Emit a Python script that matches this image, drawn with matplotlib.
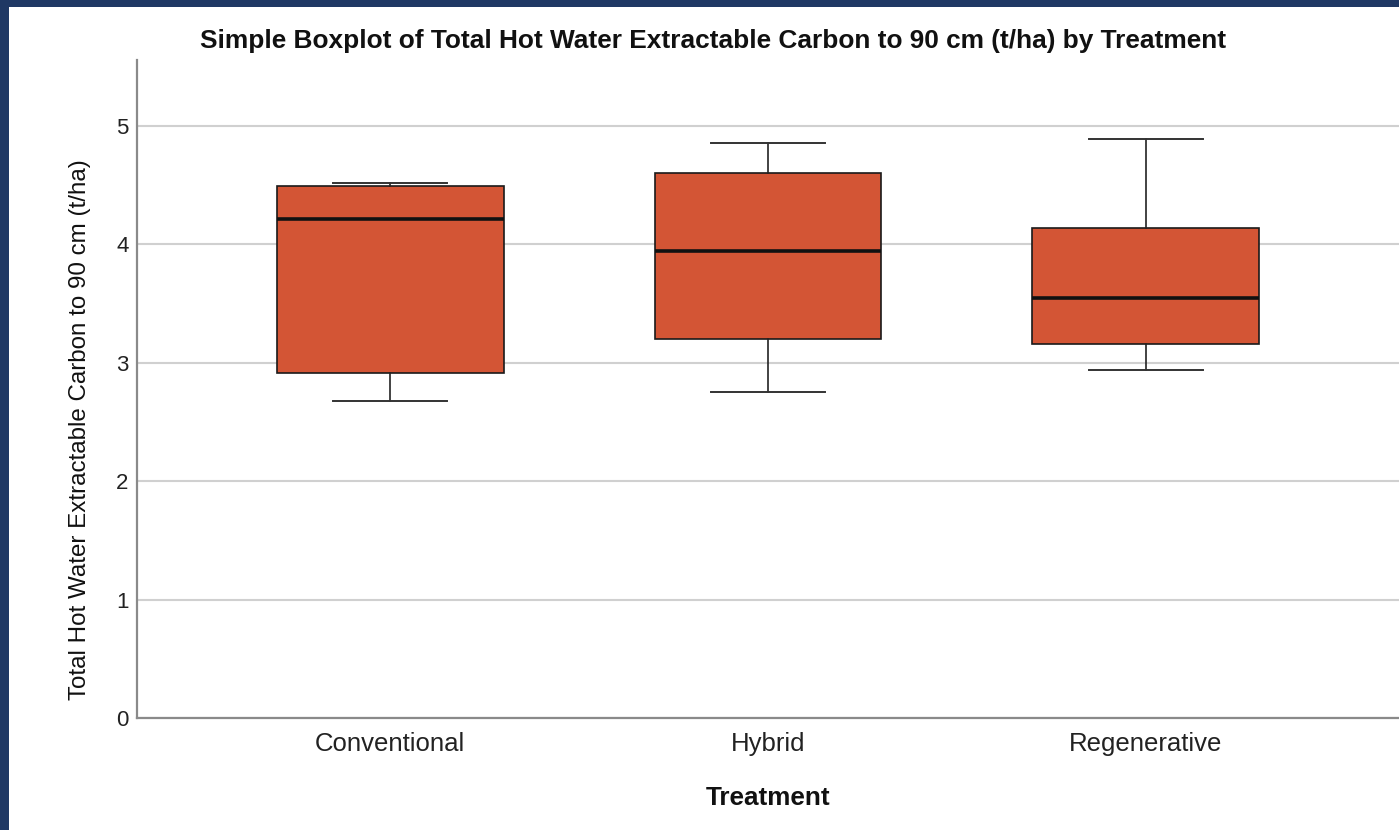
import matplotlib
matplotlib.use("Agg")
import matplotlib.pyplot as plt
from matplotlib.patches import Rectangle

categories = ["Conventional", "Hybrid", "Regenerative"]
whisker_low = [2.68, 2.75, 2.94]
q1 = [2.91, 3.20, 3.16]
median = [4.21, 3.94, 3.55]
q3 = [4.49, 4.60, 4.14]
whisker_high = [4.52, 4.86, 4.89]
y_ticks = [0, 1, 2, 3, 4, 5]

title = "Simple Boxplot of Total Hot Water Extractable Carbon to 90 cm (t/ha) by Treatment"
ylabel = "Total Hot Water Extractable Carbon to 90 cm (t/ha)"
xlabel = "Treatment"

plt.rcParams['font.family'] = ['Liberation Sans', 'DejaVu Sans']

W, H = 1399, 830
fig = plt.figure(figsize=(W / 100, H / 100), dpi=100)
fig.patch.set_facecolor("white")

navy = "#1F3864"
fig.patches.append(Rectangle((0, 1 - 7 / H), 1, 7 / H, transform=fig.transFigure,
                             facecolor=navy, edgecolor="none", zorder=0))
fig.patches.append(Rectangle((0, 0), 9 / W, 1, transform=fig.transFigure,
                             facecolor=navy, edgecolor="none", zorder=0))

ax = fig.add_axes([137 / W, 1 - 718 / H, 1 - 137 / W, (718 - 60) / H])

stats = []
for i, c in enumerate(categories):
    stats.append(dict(label=c, med=median[i], q1=q1[i], q3=q3[i],
                      whislo=whisker_low[i], whishi=whisker_high[i], fliers=[]))

ax.bxp(stats, positions=range(len(categories)), widths=0.6, capwidths=0.3,
       patch_artist=True, showfliers=False,
       boxprops=dict(facecolor="#D35535", edgecolor="#1a1a1a", linewidth=1.2),
       medianprops=dict(color="#111111", linewidth=2.6),
       whiskerprops=dict(color="#222222", linewidth=1.2),
       capprops=dict(color="#333333", linewidth=1.4),
       zorder=3)

ax.set_xlim(-0.67, 2.67)
ax.set_ylim(0, 5.557)
ax.set_yticks(y_ticks)
ax.set_yticklabels([str(v) for v in y_ticks])
ax.set_xticks(range(len(categories)))
ax.set_xticklabels(categories)

ax.yaxis.grid(True, color="#D0D0D0", linewidth=1.5, zorder=0)
ax.set_axisbelow(True)
for s in ["top", "right"]:
    ax.spines[s].set_visible(False)
for s in ["left", "bottom"]:
    ax.spines[s].set_color("#8a8a8a")
    ax.spines[s].set_linewidth(1.6)

ax.tick_params(axis="y", length=0, pad=6, labelsize=16, labelcolor="#222222")
ax.tick_params(axis="x", length=0, pad=10, labelsize=18.5, labelcolor="#222222")

ax.set_xlabel(xlabel, fontsize=18.8, fontweight="bold", color="#111111", labelpad=22)

fig.text(80 / W, 1 - 430 / H, ylabel, rotation=90, ha="center", va="center",
         fontsize=17.4, color="#111111")

fig.text(713 / W, 1 - 41 / H, title, ha="center", va="center",
         fontsize=18.9, fontweight="bold", color="#111111")

fig.savefig("out.png", dpi=100, facecolor="white")
